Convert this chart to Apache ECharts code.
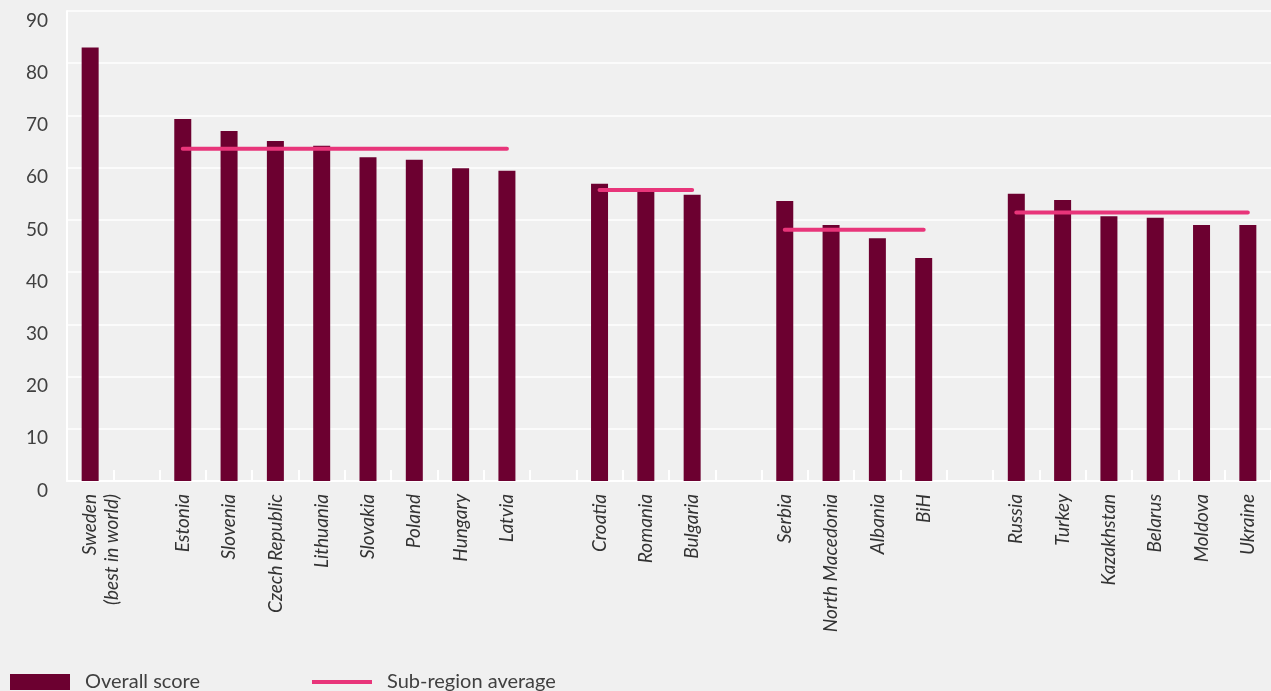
<!DOCTYPE html>
<html>
<head>
<meta charset="utf-8">
<script src="https://cdn.jsdelivr.net/npm/echarts@6/dist/echarts.min.js"></script>
<style>
html,body{margin:0;padding:0;background:#f0f0f0;}
#chart{width:1271px;height:691px;}
</style>
</head>
<body>
<div id="chart"></div>
<script>
// Categories (blank entries are spacer slots between sub-regions)
var categories = ['Sweden\n(best in world)', ' ',
  'Estonia', 'Slovenia', 'Czech Republic', 'Lithuania', 'Slovakia', 'Poland', 'Hungary', 'Latvia', '  ',
  'Croatia', 'Romania', 'Bulgaria', '   ',
  'Serbia', 'North Macedonia', 'Albania', 'BiH', '    ',
  'Russia', 'Turkey', 'Kazakhstan', 'Belarus', 'Moldova', 'Ukraine'];

var overallScore = [83.0, null,
  69.3, 67.0, 65.1, 64.2, 62.0, 61.5, 59.9, 59.4, null,
  56.9, 55.6, 54.8, null,
  53.6, 49.0, 46.5, 42.7, null,
  55.0, 53.8, 50.7, 50.4, 49.0, 49.0];

var subRegionAverage = [null, null,
  63.6, 63.6, 63.6, 63.6, 63.6, 63.6, 63.6, 63.6, null,
  55.7, 55.7, 55.7, null,
  48.1, 48.1, 48.1, 48.1, null,
  51.4, 51.4, 51.4, 51.4, 51.4, 51.4];

var yTicks = [0, 10, 20, 30, 40, 50, 60, 70, 80, 90];

var chart = echarts.init(document.getElementById('chart'), null, {renderer: 'canvas'});

chart.setOption({
  backgroundColor: '#f0f0f0',
  animation: false,
  textStyle: {fontFamily: 'Lato'},
  grid: {left: 67, right: 0, top: 11, bottom: 210, containLabel: false},
  legend: {
    left: 5,
    top: 667,
    itemWidth: 60,
    itemHeight: 16,
    itemGap: 112,
    textStyle: {fontFamily: 'Lato', fontSize: 20, color: '#404040', padding: [0, 0, 0, 10]},
    data: [
      {name: 'Overall score', icon: 'rect'},
      {name: 'Sub-region average', icon: 'path://M0 0H60V4H0Z', itemStyle: {color: '#e8357a', borderWidth: 0}}
    ]
  },
  xAxis: {
    type: 'category',
    data: categories,
    boundaryGap: true,
    axisLine: {show: true, lineStyle: {color: '#ffffff', width: 2}},
    axisTick: {show: true, inside: true, length: 11, interval: 0, lineStyle: {color: '#ffffff', width: 2}},
    axisLabel: {
      interval: 0,
      rotate: 90,
      margin: 13,
      fontFamily: 'Lato',
      fontStyle: 'italic',
      fontSize: 19,
      color: '#333333',
      lineHeight: 22,
      formatter: function (v) {
        return v.indexOf('\n') >= 0 ? '\n' + v : v;
      }
    },
    splitLine: {show: false}
  },
  yAxis: {
    type: 'value',
    min: yTicks[0],
    max: yTicks[yTicks.length - 1],
    interval: 10,
    axisLine: {show: true, lineStyle: {color: '#ffffff', width: 2}},
    axisTick: {show: false},
    axisLabel: {
      margin: 19,
      fontFamily: 'Lato',
      fontSize: 19,
      color: '#404040',
      verticalAlign: 'top'
    },
    splitLine: {show: true, lineStyle: {color: '#ffffff', width: 1.5}}
  },
  series: [
    {
      name: 'Overall score',
      type: 'bar',
      data: overallScore,
      barWidth: 17,
      itemStyle: {color: '#6c0030'},
      z: 2
    },
    {
      name: 'Sub-region average',
      type: 'line',
      data: subRegionAverage,
      connectNulls: false,
      symbol: 'none',
      lineStyle: {color: '#e8357a', width: 4, cap: 'round'},
      itemStyle: {color: '#e8357a'},
      z: 3
    }
  ]
});
</script>
</body>
</html>
